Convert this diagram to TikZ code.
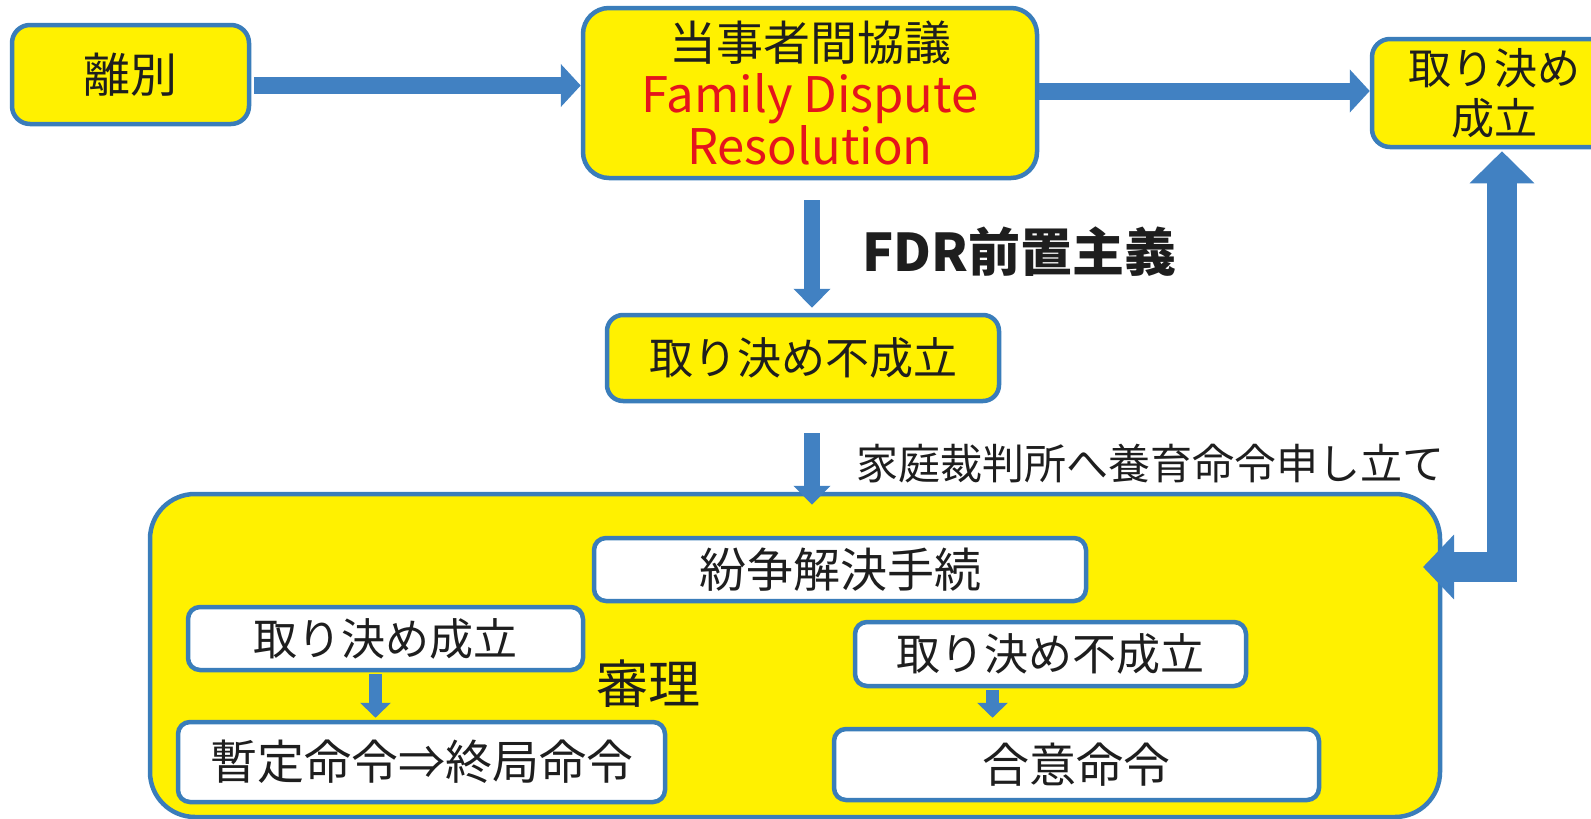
\documentclass[tikz,border=0pt]{standalone}
\usepackage{fontspec}
\setmainfont{Noto Sans CJK JP}
\usetikzlibrary{arrows.meta,calc}
\definecolor{fillY}{HTML}{FFF100}
\definecolor{lineB}{HTML}{3A7DBA}
\definecolor{arrB}{HTML}{4181C2}
\definecolor{txtR}{HTML}{E5141C}
\definecolor{txtK}{HTML}{1E1E1E}
\tikzset{
  ybox/.style={draw=lineB, line width=4.5pt, fill=fillY, rounded corners=#1, inner sep=0pt, text=txtK, align=center},
  ybox/.default=18pt,
  wbox/.style={draw=lineB, line width=4.5pt, fill=white, rounded corners=12pt, inner sep=0pt, text=txtK},
  harr/.style={line width=17pt, arrB, -{Triangle[width=42pt,length=20pt]}},
  varr/.style={line width=16pt, arrB, -{Triangle[width=36pt,length=19pt]}},
  sarr/.style={line width=13pt, arrB, -{Triangle[width=30pt,length=15pt]}},
  barr/.style={line width=30pt, arrB, line join=miter, {Triangle[width=63pt,length=31pt]}-{Triangle[width=63pt,length=32pt]}},
}
\begin{document}
\begin{tikzpicture}[x=1pt,y=-1pt]
\useasboundingbox (0,0) rectangle (1591,819);
\clip (0,0) rectangle (1591,819);
% top row
\node[ybox, minimum width=237pt, minimum height=99pt, font=\fontsize{47pt}{55pt}\selectfont] (ribetsu) at (130.5,74.5) {離別};
\node[ybox=26pt, minimum width=454pt, minimum height=170pt, font=\fontsize{47pt}{56pt}\selectfont] (kyogi) at (810,93)
  {当事者間協議\\[-4pt]{\fontsize{49pt}{56pt}\selectfont\color{txtR}Family Dispute}\\[-4pt]{\fontsize{49pt}{56pt}\selectfont\color{txtR}Resolution}};
\node[ybox, minimum width=260pt, minimum height=108pt] (tr) at (1502,93) {};
\node[font=\fontsize{43pt}{50pt}\selectfont, text=txtK, align=center, inner sep=0pt] (trtext) at (1494,93) {取り決め\\成立};
% middle
\node[ybox=16pt, minimum width=392pt, minimum height=86pt, font=\fontsize{44pt}{52pt}\selectfont] (fusei) at (803,358) {取り決め不成立};
\node[font=\bfseries\fontsize{52pt}{60pt}\selectfont, text=txtK, anchor=west, inner sep=0pt] (fdr) at (862,252) {FDR前置主義};
\node[font=\fontsize{42pt}{50pt}\selectfont, text=txtK, anchor=west, inner sep=0pt] (moushi) at (856,464) {家庭裁判所へ養育命令申し立て};
% big box
\node[ybox=45pt, minimum width=1290pt, minimum height=323pt] (big) at (795,655.5) {};
\node[wbox, minimum width=492pt, minimum height=63pt, font=\fontsize{47pt}{55pt}\selectfont] (funso) at (840,569.5) {紛争解決手続};
\node[wbox, minimum width=395pt, minimum height=63pt, font=\fontsize{44pt}{52pt}\selectfont] (s1) at (385.5,638.5) {取り決め成立};
\node[wbox, minimum width=487pt, minimum height=80pt, font=\fontsize{47pt}{55pt}\selectfont] (zantei) at (421.5,762) {暫定命令⇒終局命令};
\node[font=\fontsize{52pt}{60pt}\selectfont, text=txtK, inner sep=0pt] (shinri) at (648,684) {審理};
\node[wbox, minimum width=391pt, minimum height=64pt, font=\fontsize{44pt}{52pt}\selectfont] (f2) at (1050.5,654) {取り決め不成立};
\node[wbox, minimum width=485pt, minimum height=71pt, font=\fontsize{47pt}{55pt}\selectfont] (goi) at (1076.5,764.5) {合意命令};
% coordinates
\coordinate (a1s) at ($(ribetsu.east)+(3,11)$);
\coordinate (a3e) at ($(fusei.south |- big.north)+(0,13)$);
\coordinate (bt) at (1423,567);
% arrows
\draw[harr] (a1s) -- (a1s -| kyogi.west);
\draw[harr] ($(kyogi.east)+(0,-2)$) -- ($(kyogi.east -| tr.west)+(0,-2)$);
\draw[varr] ($(kyogi.south)+(2,20)$) -- ($(kyogi.south |- fusei.north)+(2,-5)$);
\draw[varr] ($(fusei.south)+(9,30)$) -- ($(a3e)+(9,0)$);
\draw[sarr] ($(s1.south)+(-10,2)$) -- ($(s1.south |- zantei.north)+(-10,-2)$);
\draw[sarr] ($(f2.south)+(-58,2)$) -- ($(f2.south |- goi.north)+(-58,-9)$);
\draw[barr] (bt) -| ($(tr.south)+(0,2)$);
\end{tikzpicture}
\end{document}
